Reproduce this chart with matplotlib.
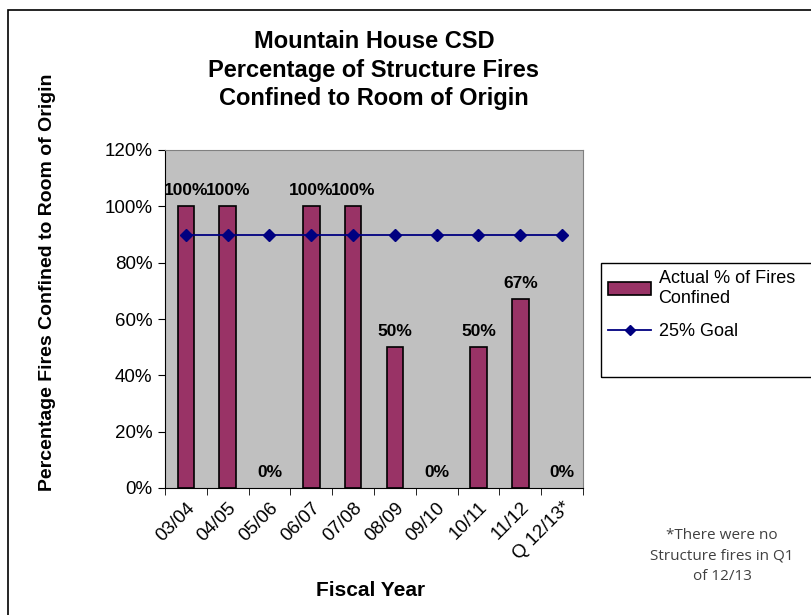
import numpy as np
import matplotlib
matplotlib.use('Agg')
import matplotlib.pyplot as plt
from matplotlib.patches import Rectangle
from matplotlib.ticker import PercentFormatter

plt.rcParams['font.family'] = ['Liberation Sans', 'DejaVu Sans']

#%% data
years = ['03/04', '04/05', '05/06', '06/07', '07/08', '08/09',
         '09/10', '10/11', '11/12', 'Q 12/13*']
actual = [100, 100, 0, 100, 100, 50, 0, 50, 67, 0]
goal = [90, 90, 90, 90, 90, 90, 90, 90, 90, 90]
yticks = [0, 20, 40, 60, 80, 100, 120]

#%% figure
fig = plt.figure(figsize=(8.12, 6.15), dpi=100)
# outer chart border (clipped at right and bottom like the original)
fig.patches.append(Rectangle((8/812, -0.2), 1.2, 1.2 - 10/615,
                             transform=fig.transFigure, fill=False,
                             edgecolor='black', lw=1.2))
ax = fig.add_axes([165/812, 1 - 488/615, 418/812, 338/615])
ax.set_facecolor('#C0C0C0')

x = np.arange(len(years))
bars = ax.bar(x, actual, width=0.4, color='#993366', edgecolor='black',
              lw=[1.2 if v else 0 for v in actual],
              label='Actual % of Fires\nConfined', zorder=2)
line, = ax.plot(x, goal, color='#000080', lw=1.3, marker='D', ms=6.5,
                label='25% Goal', zorder=3)

for xi, v in zip(x, actual):
    ax.text(xi, v + 3, f'{v}%', ha='center', va='bottom',
            fontsize=12.5, fontweight='bold')

ax.set_xlim(-0.5, len(years) - 0.5)
ax.set_ylim(0, 120)
ax.set_yticks(yticks)
ax.yaxis.set_major_formatter(PercentFormatter(decimals=0))
ax.set_xticks(x)
ax.set_xticklabels(years, rotation=45, ha='right', rotation_mode='anchor')
ax.set_xticks(np.arange(-0.5, len(years)), minor=True)
ax.tick_params(axis='x', which='major', length=0, labelsize=13.5, pad=8)
ax.tick_params(axis='x', which='minor', length=5, direction='out')
ax.tick_params(axis='y', length=5, direction='out', labelsize=13.5, pad=4)
for s in ['top', 'right']:
    ax.spines[s].set_color('#808080')

fig.text(371/812, 1 - 590/615, 'Fiscal Year', ha='center', va='center',
         fontsize=15, fontweight='bold')
fig.text(48/812, 1 - 282/615, 'Percentage Fires Confined to Room of Origin',
         ha='center', va='center', rotation=90, fontsize=14, fontweight='bold')
fig.text(374/812, 1 - 70/615,
         'Mountain House CSD\nPercentage of Structure Fires\nConfined to Room of Origin',
         ha='center', va='center', fontsize=17, fontweight='bold',
         linespacing=1.32)

# legend box
fig.patches.append(Rectangle((601/812, 1 - 377/615), 0.3, 114/615,
                             transform=fig.transFigure, fill=False,
                             edgecolor='black', lw=1))
leg = fig.legend([bars, line], ['Actual % of Fires\nConfined', '25% Goal'],
                 loc='upper left', bbox_to_anchor=(608/812, 1 - 270/615),
                 frameon=False, fontsize=13, handlelength=2.4,
                 handletextpad=0.4, labelspacing=0.9, borderaxespad=0,
                 borderpad=0)
leg.legend_handles[1].set_markersize(5)

fig.text(722/812, 1 - 556/615,
         '*There were no\nStructure fires in Q1\nof 12/13',
         ha='center', va='center', fontsize=11, color='#404040',
         family=['Open Sans', 'DejaVu Sans'], linespacing=1.5)

fig.savefig('out.png', dpi=100)
